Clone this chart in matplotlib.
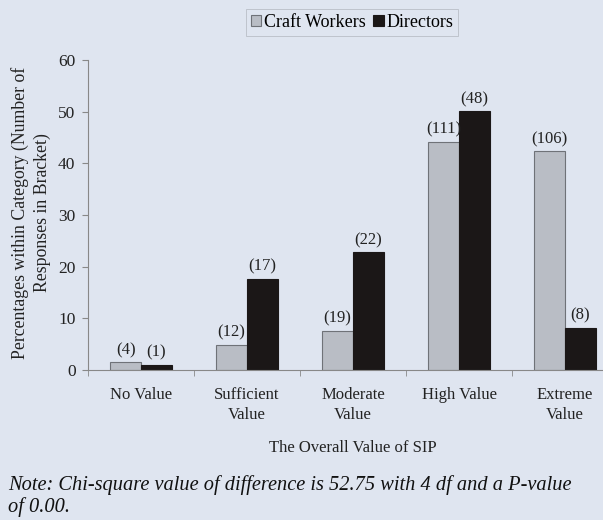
import matplotlib.pyplot as plt
import numpy as np

categories = ["No Value", "Sufficient\nValue", "Moderate\nValue", "High Value", "Extreme\nValue"]
craft = [1.5, 4.9, 7.6, 44.2, 42.3]
directors = [1.0, 17.7, 22.8, 50.1, 8.2]
craft_n = ["(4)", "(12)", "(19)", "(111)", "(106)"]
directors_n = ["(1)", "(17)", "(22)", "(48)", "(8)"]

bg = "#dfe5f0"
plt.rcParams['font.family'] = ['Liberation Serif', 'DejaVu Serif']

fig = plt.figure(figsize=(6.03, 5.2), dpi=100, facecolor=bg)
ax = fig.add_axes([88 / 603, 1 - 370 / 520, 530 / 603, 310 / 520])
ax.set_facecolor(bg)

x = np.arange(len(categories))
w = 0.29
b1 = ax.bar(x - w / 2, craft, w, color="#b9bdc5", edgecolor="#6f7278", linewidth=0.8,
            label="Craft Workers")
b2 = ax.bar(x + w / 2, directors, w, color="#1b1717", edgecolor="#1b1717", linewidth=0.8,
            label="Directors")

for bars, labels in ((b1, craft_n), (b2, directors_n)):
    for rect, lab in zip(bars, labels):
        ax.annotate(lab, (rect.get_x() + rect.get_width() / 2, rect.get_height()),
                    xytext=(0, 3), textcoords="offset points", ha="center", va="bottom",
                    fontsize=12, color="#222222")

ax.set_xlim(-0.5, 4.5)
ax.set_ylim(0, 60)
ax.set_yticks(range(0, 61, 10))
ax.set_xticks(x)
ax.set_xticklabels(categories, fontsize=12, color="#222222", linespacing=1.4)
ax.set_xticks(np.arange(-0.5, 4.6, 1), minor=True)
ax.tick_params(axis="x", which="major", length=0, pad=12)
ax.tick_params(axis="x", which="minor", length=4, color="#888888")
ax.tick_params(axis="y", length=4, color="#888888", labelsize=12.5, labelcolor="#222222", pad=5)
for s in ("top", "right"):
    ax.spines[s].set_visible(False)
for s in ("left", "bottom"):
    ax.spines[s].set_color("#888888")
    ax.spines[s].set_linewidth(0.8)

fig.text(31 / 603, 1 - 213 / 520,
         "Percentages within Category (Number of\nResponses in Bracket)",
         rotation=90, ha="center", va="center", multialignment="center",
         fontsize=12.8, color="#222222", linespacing=1.3)
fig.text(353 / 603, 1 - 448 / 520, "The Overall Value of SIP", ha="center", va="center",
         fontsize=12, color="#222222")

leg = fig.legend(loc="center", bbox_to_anchor=(352 / 603, 1 - 22.5 / 520), ncol=2,
                 fontsize=13, frameon=True, fancybox=False, handlelength=0.6,
                 handleheight=0.6, handletextpad=0.15, columnspacing=0.4,
                 borderpad=0.25, borderaxespad=0)
leg.get_frame().set_facecolor(bg)
leg.get_frame().set_edgecolor("#b0b4bc")
leg.get_frame().set_linewidth(0.6)

note_lines = ["Note: Chi-square value of difference is 52.75 with 4 df and a P-value",
              "of 0.00."]
for i, line in enumerate(note_lines):
    fig.text(8 / 603, 1 - (485 + 22 * i) / 520, line, ha="left", va="center",
             fontsize=14.7, style="italic", color="#111111")

fig.savefig("out.png", dpi=100, facecolor=bg)
